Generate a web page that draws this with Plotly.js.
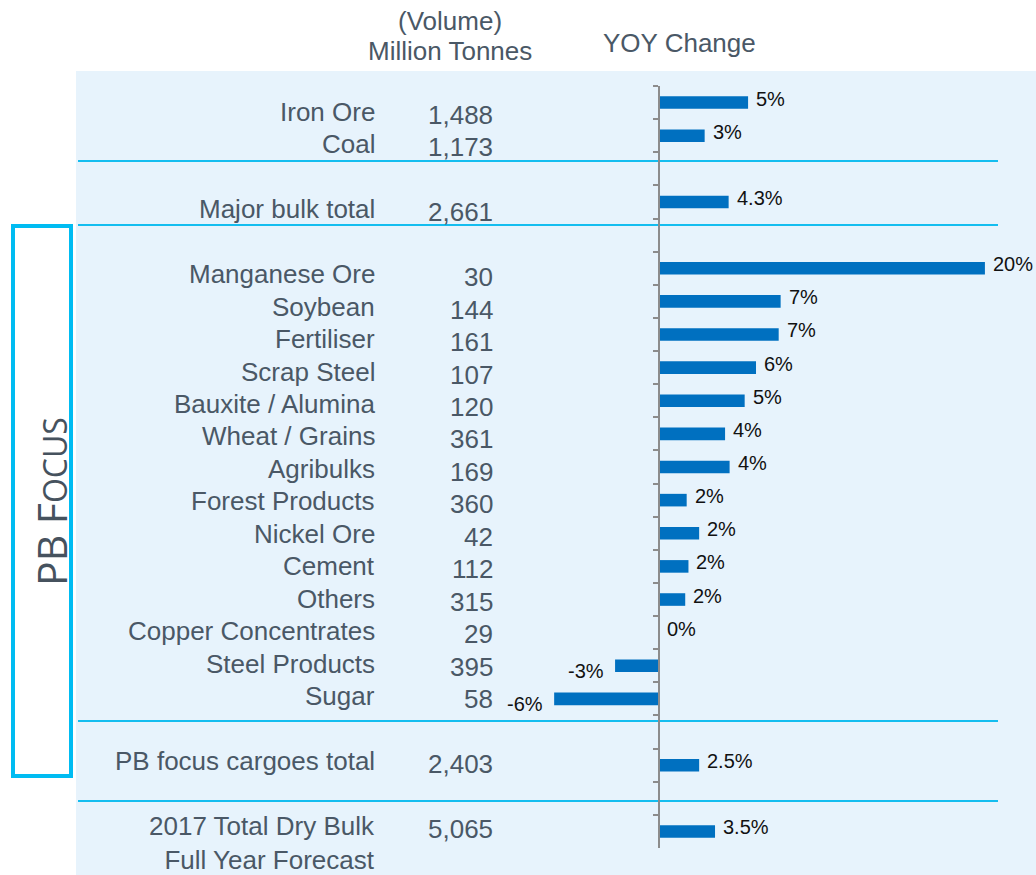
<!DOCTYPE html>
<html><head><meta charset="utf-8">
<script src="https://cdn.plot.ly/plotly-3.0.1.min.js"></script>
<style>html,body{margin:0;padding:0;background:#fff}</style>
</head><body>
<div id="chart" style="width:1036px;height:875px"></div>
<script>
// ---- data ----
const rowKeys = ["Iron Ore","Coal","gap1","Major bulk total","gap2","Manganese Ore","Soybean","Fertiliser","Scrap Steel","Bauxite / Alumina","Wheat / Grains","Agribulks","Forest Products","Nickel Ore","Cement","Others","Copper Concentrates","Steel Products","Sugar","gap3","PB focus cargoes total","gap4","2017 Total Dry Bulk"];
const rowLabels = ["Iron Ore","Coal","","Major bulk total","","Manganese Ore","Soybean","Fertiliser","Scrap Steel","Bauxite / Alumina","Wheat / Grains","Agribulks","Forest Products","Nickel Ore","Cement","Others","Copper Concentrates","Steel Products","Sugar","","PB focus cargoes total","","2017 Total Dry Bulk<br>Full Year Forecast"];
const volumes = ["1,488","1,173","","2,661","","30","144","161","107","120","361","169","360","42","112","315","29","395","58","","2,403","","5,065"];
const yoyValues = [5.48,2.80,null,4.28,null,20.1,7.49,7.37,5.97,5.27,4.06,4.34,1.69,2.46,1.80,1.60,0,-2.73,-6.49,null,2.46,null,3.44];
const yoyLabels = ["5%","3%","","4.3%","","20%","7%","7%","6%","5%","4%","4%","2%","2%","2%","2%","0%","-3%","-6%","","2.5%","","3.5%"];
const headerVolume = ["(Volume)","Million Tonnes"];
const headerYoy = "YOY Change";
const sideLabel = 'PB F<span style="font-size:32px">OCUS</span>';

// ---- layout helpers ----
const W = 1036, H = 875, MT = 86, MB = 27;
const PH = H - MT - MB;
const ZERO_PX = 659.3, PX_PER_UNIT = 16.2;
const px = v => v / W;
const py = v => (H - MB - v) / PH;

const labelFont = {family: "Arial, 'Liberation Sans', sans-serif", size: 26, color: "#4A5866"};
const pctFont = {family: "Arial, 'Liberation Sans', sans-serif", size: 20, color: "#111111"};

const annotations = [];
rowKeys.forEach((k, i) => {
  if (rowLabels[i]) {
    const nLines = rowLabels[i].split("<br>").length;
    annotations.push({xref: "paper", yref: "y2", x: px(377), y: k, xanchor: "right", yanchor: "middle",
      align: "right", text: rowLabels[i], showarrow: false, font: labelFont,
      yshift: -(nLines - 1) * (labelFont.size * 1.3 / 2)});
  }
  if (volumes[i]) {
    annotations.push({xref: "paper", yref: "y2", x: px(495), y: k, xanchor: "right", yanchor: "middle",
      text: volumes[i], showarrow: false, font: labelFont, yshift: -3});
  }
  if (yoyLabels[i]) {
    const neg = yoyValues[i] < 0;
    annotations.push({xref: "x", yref: "y", x: yoyValues[i], y: k, xanchor: neg ? "right" : "left",
      yanchor: "middle", text: yoyLabels[i], showarrow: false, font: pctFont,
      xshift: neg ? -9 : 6, yshift: neg ? -5 : 4});
  }
});
annotations.push({xref: "paper", yref: "paper", x: px(450), y: py(21), xanchor: "center", yanchor: "middle",
  text: headerVolume[0], showarrow: false, font: labelFont});
annotations.push({xref: "paper", yref: "paper", x: px(450), y: py(51), xanchor: "center", yanchor: "middle",
  text: headerVolume[1], showarrow: false, font: labelFont});
annotations.push({xref: "paper", yref: "paper", x: px(679), y: py(43), xanchor: "center", yanchor: "middle",
  text: headerYoy, showarrow: false, font: labelFont});
annotations.push({xref: "paper", yref: "paper", x: px(51), y: py(502), xanchor: "center", yanchor: "middle",
  text: sideLabel, textangle: -90, showarrow: false,
  font: {family: "'Open Sans', sans-serif", size: 41, color: "#46525E"}});

const sepColor = "#14BDEF";
const shapes = [
  {type: "rect", xref: "paper", yref: "paper", x0: px(76), x1: 1, y0: py(875), y1: py(71),
   fillcolor: "#E7F3FC", line: {width: 0}, layer: "below"},
  ...[161, 225, 721, 801].map(y => ({type: "line", xref: "paper", yref: "paper", x0: px(78), x1: px(998),
   y0: py(y), y1: py(y), line: {color: sepColor, width: 2}, layer: "below"})),
  {type: "rect", xref: "paper", yref: "paper", x0: px(13), x1: px(71), y0: py(776), y1: py(226),
   fillcolor: "rgba(0,0,0,0)", line: {color: "#00BCF2", width: 4}}
];

const bars = {
  type: "bar", orientation: "h", y: rowKeys, x: yoyValues, xaxis: "x", yaxis: "y",
  marker: {color: "#0070C0"}, hoverinfo: "skip", cliponaxis: false
};
// invisible carrier for the text-table row axis (label and volume columns)
const tableRows = {
  type: "scatter", mode: "markers", y: rowKeys, x: yoyValues, xaxis: "x", yaxis: "y2",
  marker: {opacity: 0, size: 1}, hoverinfo: "skip", showlegend: false
};

// text table rows sit on a slightly tighter row pitch than the bars
const TABLE_TOP = 95.7, TABLE_BOTTOM = 842;

const layout = {
  width: W, height: H,
  margin: {l: 0, r: 0, t: MT, b: MB, pad: 0},
  paper_bgcolor: "#ffffff", plot_bgcolor: "rgba(0,0,0,0)",
  showlegend: false, bargap: 0.62,
  xaxis: {range: [-ZERO_PX / PX_PER_UNIT, (W - ZERO_PX) / PX_PER_UNIT], visible: false, fixedrange: true},
  yaxis: {type: "category", categoryorder: "array", categoryarray: rowKeys,
    range: [rowKeys.length - 0.5, -0.5], anchor: "free", position: ZERO_PX / W,
    showline: true, linecolor: "#8C8C8C", linewidth: 2,
    ticks: "outside", tickson: "boundaries", ticklen: 5, tickwidth: 2, tickcolor: "#8C8C8C",
    showticklabels: false, showgrid: false, zeroline: false, fixedrange: true},
  yaxis2: {type: "category", categoryorder: "array", categoryarray: rowKeys,
    range: [rowKeys.length - 0.5, -0.5], anchor: "x",
    domain: [py(TABLE_BOTTOM), py(TABLE_TOP)], visible: false, fixedrange: true},
  annotations, shapes
};

Plotly.newPlot("chart", [bars, tableRows], layout, {staticPlot: true, displayModeBar: false});
</script>
</body></html>
